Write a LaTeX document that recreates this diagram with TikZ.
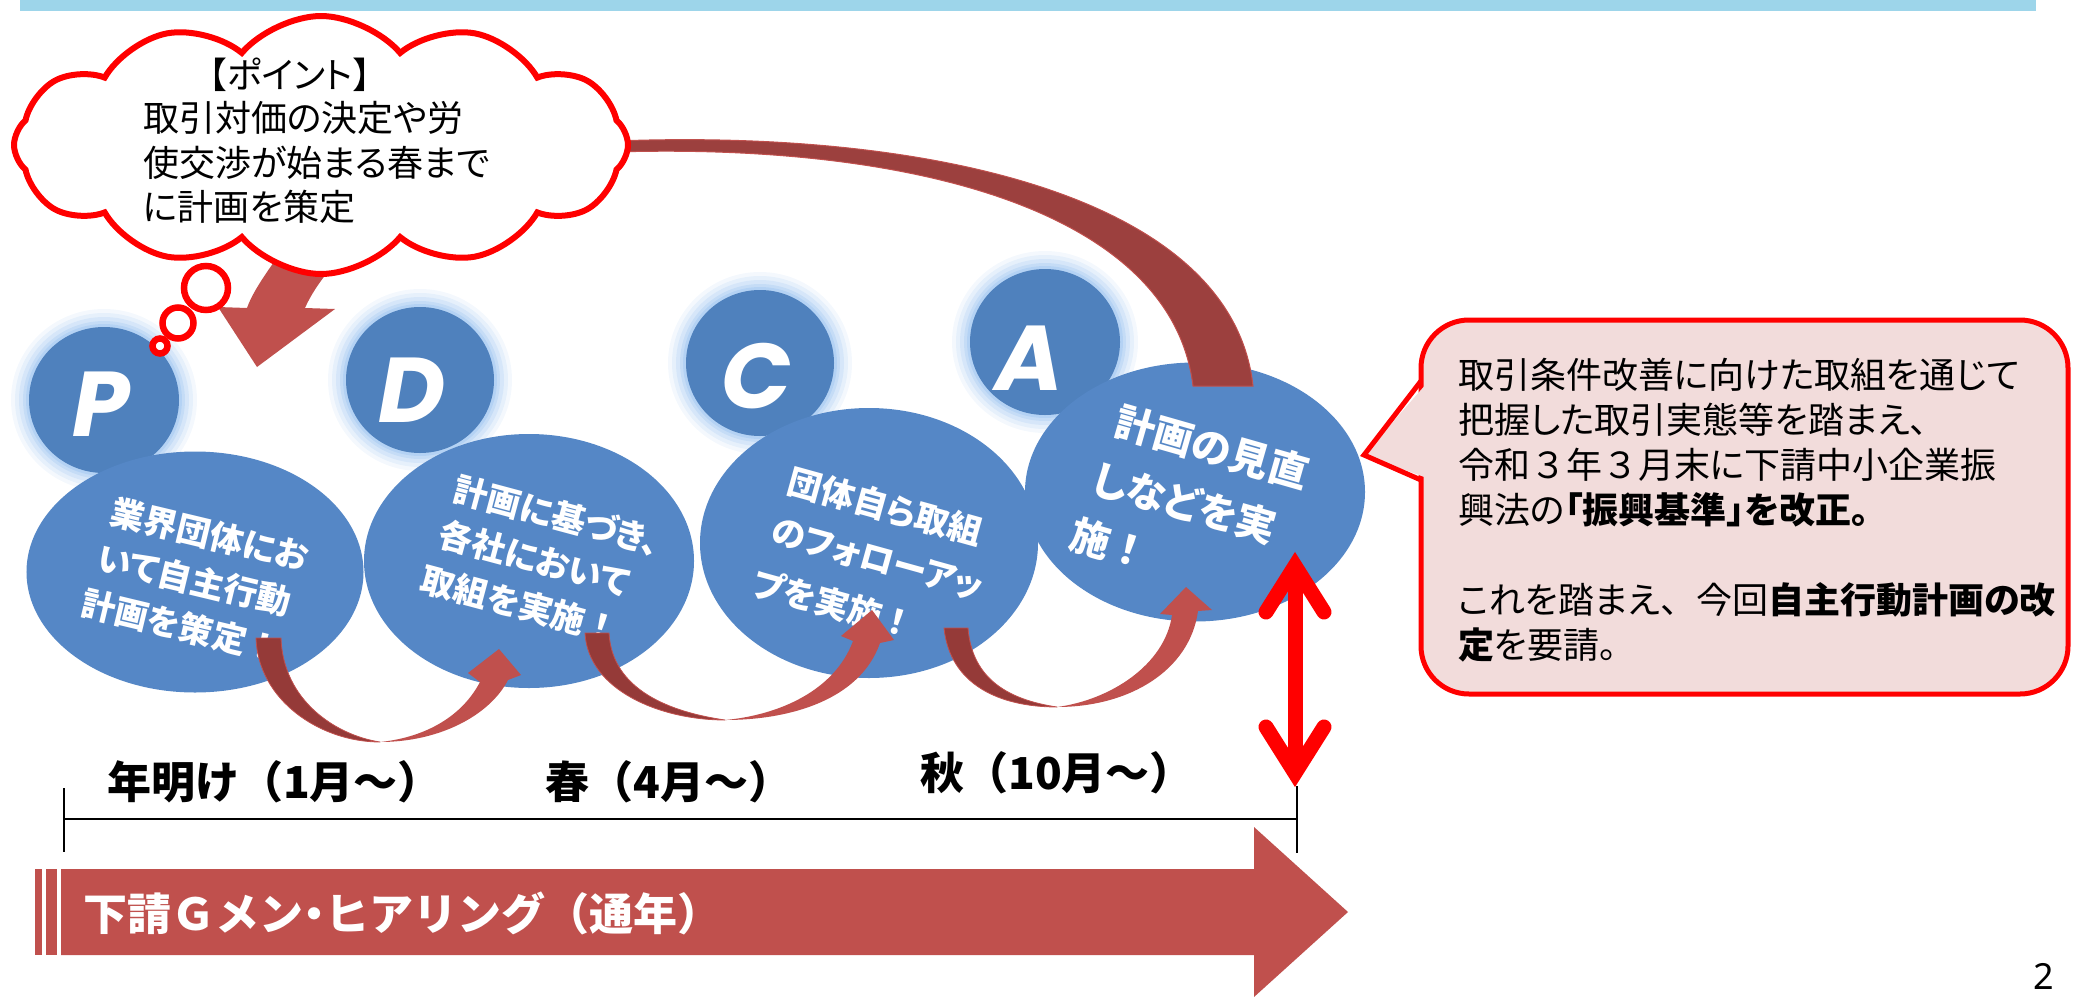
\documentclass[tikz,border=0pt]{standalone}
\usepackage{fontspec}
\setmainfont{Noto Sans CJK JP}
\newfontfamily\jp{Noto Sans CJK JP}[RawFeature=+palt]
\newfontfamily\letterfont{Poppins}
\newfontfamily\numfont{Noto Sans}
\usetikzlibrary{shapes.geometric,shapes.symbols}
\definecolor{topbar}{HTML}{9DD5EA}
\definecolor{ellblue}{HTML}{4F81BD}
\definecolor{bigblue}{HTML}{5587C6}
\definecolor{glowc}{HTML}{8FBCEE}
\definecolor{arrowred}{HTML}{C0504D}
\definecolor{arrowdark}{HTML}{953A38}
\definecolor{arcdark}{HTML}{9C403E}
\definecolor{pureRed}{HTML}{FF0000}
\definecolor{callfill}{HTML}{F2DCDB}
\newcommand\glowell[4]{%
  \foreach \g/\o in {18/0.10,14/0.14,10/0.18,6/0.24,3/0.3}{%
    \pgfmathsetmacro\rxx{#3+\g}\pgfmathsetmacro\ryy{#4+\g}%
    \fill[glowc, opacity=\o] (#1,#2) ellipse [x radius=\rxx, y radius=\ryy];}}
\newcommand\fw[1]{{\rmfamily #1}}
\tikzset{
  letterell/.style={ellipse, fill=ellblue, inner sep=0pt},
  bigell/.style={ellipse, fill=bigblue, inner sep=0pt},
  lettertxt/.style={text=white, inner sep=0pt, font=\letterfont\bfseries\itshape\fontsize{92bp}{92bp}\selectfont},
  elltxt/.style={text=white, inner sep=0pt, anchor=west, font=\jp\bfseries\fontsize{34bp}{40bp}\selectfont},
  elltxtA/.style={text=white, inner sep=0pt, anchor=west, font=\jp\bfseries\fontsize{40bp}{44bp}\selectfont},
  cloudtxt/.style={inner sep=0pt, font=\jp\fontsize{36bp}{40bp}\selectfont},
  calltxt/.style={inner sep=0pt, anchor=west, font=\jp\fontsize{36bp}{40bp}\selectfont},
  timetxt/.style={inner sep=0pt, anchor=west, font=\bfseries\fontsize{44bp}{48bp}\selectfont},
  bubble/.style={draw=pureRed, line width=6.5bp, fill=white},
  redarrow/.style={draw=pureRed, line width=15bp},
}
\begin{document}
\begin{tikzpicture}[x=1bp, y=-1bp]
\useasboundingbox (0,0) rectangle (2073,997);
% top bar
\fill[topbar] (20,0) rectangle (2036,11);

% glows of letter ellipses
\glowell{104}{400}{75}{73}
\glowell{420}{380}{74}{73}
\glowell{760}{363}{74}{73}
\glowell{1045}{342}{75}{73}

% letter ellipses
\node[letterell, minimum width=150bp, minimum height=146bp] (Pc) at (104,400) {};
\node[letterell, minimum width=148bp, minimum height=146bp] (Dc) at (420,380) {};
\node[letterell, minimum width=148bp, minimum height=146bp] (Cc) at (760,363) {};
\node[letterell, minimum width=150bp, minimum height=146bp] (Ac) at (1045,342) {};
\node[lettertxt] (Pl) at (101,404) {P};
\node[lettertxt] (Dl) at (412,390) {D};
\node[lettertxt] (Cl) at (757,376) {C};
\node[lettertxt] (Al) at (1029,358) {A};

% big ellipses
\node[bigell, minimum width=337bp, minimum height=241bp] (Pb) at (195,572) {};
\node[bigell, minimum width=330bp, minimum height=254bp] (Db) at (529,561) {};
\node[bigell, minimum width=338bp, minimum height=270bp] (Cb) at (869,543) {};
\node[bigell, minimum width=340bp, minimum height=259bp] (Ab) at (1195,492) {};

% texts in big ellipses
\node[elltxt, rotate=-13.5] (Pt1) at (111,511) {業界団体にお};
\node[elltxt, rotate=-13.5] (Pt2) at (98,557) {いて自主行動};
\node[elltxt, rotate=-13.5] (Pt3) at (82,602) {計画を策定\fw{！}};
\node[elltxt, rotate=-15] (Dt1) at (455,488) {計画に基づき、};
\node[elltxt, rotate=-15] (Dt2) at (440,533) {各社において};
\node[elltxt, rotate=-15] (Dt3) at (422,578) {取組を実施\fw{！}};
\node[elltxt, rotate=-15.5] (Ct1) at (789,480) {団体自ら取組};
\node[elltxt, rotate=-15.5] (Ct2) at (772,531) {のフォローアッ};
\node[elltxt, rotate=-15.5] (Ct3) at (754,582) {プを実施\fw{！}};
\node[elltxtA, rotate=-16] (At1) at (1116,420) {計画の見直};
\node[elltxtA, rotate=-16] (At2) at (1094,477) {しなどを実};
\node[elltxtA, rotate=-16] (At3) at (1071,533) {施\fw{！}};

% curved arrows P->D, D->C, C->A
\fill[arrowdark, draw=arrowred, line width=0.8bp] (256,638) .. controls (258,700) and (320,742) .. (380,742) .. controls (335,735) and (283,700) .. (281,638) -- cycle;
\fill[arrowred] (380,742) .. controls (440,742) and (490,715) .. (508,680) -- (521,675) -- (499,649) -- (468,673) -- (480,682) .. controls (460,720) and (420,738) .. (380,742) -- cycle;
\fill[arrowdark, draw=arrowred, line width=0.8bp] (585,633) .. controls (588,690) and (660,720) .. (725,720) .. controls (670,712) and (612,690) .. (609,633) -- cycle;
\fill[arrowred] (725,720) .. controls (790,720) and (860,700) .. (880,643) -- (894,640) -- (872,610) -- (841,636) -- (853,641) .. controls (835,690) and (780,715) .. (725,720) -- cycle;
\fill[arrowdark, draw=arrowred, line width=0.8bp] (944,628) .. controls (950,685) and (1000,707) .. (1057,707) .. controls (1010,700) and (972,680) .. (968,628) -- cycle;
\fill[arrowred] (1057,707) .. controls (1130,707) and (1190,670) .. (1198,611) -- (1212,610) -- (1186,587) -- (1160,614) -- (1172,615) .. controls (1165,665) and (1110,700) .. (1057,707) -- cycle;

% big arc from A back to the cloud
\fill[arcdark, draw=arrowred, line width=1bp] (615,141) .. controls (925,129) and (1232,195) .. (1253,386) -- (1193,386) .. controls (1172,212) and (915,143) .. (615,152) -- cycle;

% arrow from the cloud down to P
\fill[arrowred] (300,225) .. controls (280,255) and (255,285) .. (247,308) -- (218,307) -- (257,367) -- (335,309) -- (305,308) .. controls (315,285) and (335,262) .. (360,235) -- cycle;

% cloud
\node[cloud, cloud puffs=12, cloud puff arc=100, cloud ignores aspect, draw=pureRed, line width=6bp, fill=white, minimum width=614bp, minimum height=258bp, inner sep=0pt] (cloud) at (321,145) {};
\node[cloudtxt] (ct0) at (290,75) {【ポイント】};
\node[cloudtxt, anchor=west] (ct1) at (143,118) {取引対価の決定や労};
\node[cloudtxt, anchor=west] (ct2) at (143,163) {使交渉が始まる春まで};
\node[cloudtxt, anchor=west] (ct3) at (143,207) {に計画を策定};
% thought bubbles
\draw[bubble] (206,288) circle [radius=22];
\draw[bubble] (178,323) circle [radius=15.5];
\draw[bubble] (160,346) circle [radius=7.5];

% red double arrow
\coordinate (dtop) at (1295,566);
\coordinate (dbot) at (1295,773);
\draw[redarrow] (1295,572) -- (1295,767);
\draw[redarrow, line cap=round, line join=miter] (1266,612) -- (dtop) -- (1324,612);
\draw[redarrow, line cap=round, line join=miter] (1266,727) -- (dbot) -- (1324,727);

% timeline
\coordinate (tl) at (64,819);
\coordinate (tr) at (1297,819);
\draw[line width=2.5bp] (tl) -- (tr);
\draw[line width=2.5bp] (64,788) -- (64,852);
\draw[line width=2.5bp] (1297,786) -- (1297,853);
\node[timetxt] (t1) at (107,782) {年明け（1月～）};
\node[timetxt] (t2) at (545,782) {春（4月～）};
\node[timetxt] (t3) at (920,773) {秋（10月～）};

% bottom striped arrow
\fill[arrowred] (35,869) rectangle (42,955);
\fill[arrowred] (46,869) rectangle (57,955);
\fill[arrowred] (61,869) -- (1254,869) -- (1254,827) -- (1348,912) -- (1254,997) -- (1254,955) -- (61,955) -- cycle;
\node[inner sep=0pt, anchor=west, text=white, font=\bfseries\fontsize{44bp}{48bp}\selectfont] (gmen) at (83,913) {下請Ｇメン{\jp ・}ヒアリング（通年）};

% callout
\draw[draw=pureRed, line width=5bp, fill=callfill, rounded corners=48bp] (1421,320) rectangle (2068,694);
\fill[callfill] (1427,383) -- (1364,455) -- (1427,478) -- cycle;
\draw[pureRed, line width=5bp, line join=miter] (1421,381) -- (1364,455) -- (1421,480);
\node[calltxt] (c1) at (1458,375) {取引条件改善に向けた取組を通じて};
\node[calltxt] (c2) at (1458,420) {把握した取引実態等を踏まえ、};
\node[calltxt] (c3) at (1458,465) {令和\fw{３}年\fw{３}月末に下請中小企業振};
\node[calltxt] (c4) at (1458,510) {興法の{\bfseries 「振興基準」を改正。}};
\node[calltxt] (c5) at (1458,600) {これを踏まえ\fw{、}今回{\bfseries 自主行動計画の改}};
\node[calltxt] (c6) at (1458,645) {{\bfseries 定}を要請。};

% page number
\node[inner sep=0pt, font=\numfont\fontsize{36bp}{38bp}\selectfont] (pg) at (2044,976) {2};
\end{tikzpicture}
\end{document}
